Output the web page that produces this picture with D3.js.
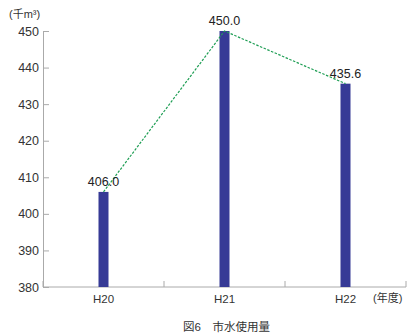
<!DOCTYPE html>
<html>
<head>
<meta charset="utf-8">
<script src="https://cdn.jsdelivr.net/npm/d3@7"></script>
<style>
  body { margin: 0; background: #fff; }
  text { font-family: "Liberation Sans", "Noto Sans CJK JP", sans-serif; }
</style>
</head>
<body>
<script>
// Data
const years = ["H20", "H21", "H22"];
const values = [406.0, 450.0, 435.6];
const yTicks = [380, 390, 400, 410, 420, 430, 440, 450];

// Dimensions
const W = 412, H = 336;
const margin = { top: 31, right: 6, bottom: 49, left: 43 };
const width = W - margin.left - margin.right;
const height = H - margin.top - margin.bottom;

const svg = d3.select("body")
    .append("svg")
    .attr("width", W)
    .attr("height", H);

const g = svg.append("g")
    .attr("transform", `translate(${margin.left}, ${margin.top})`);

// Scales
const x = d3.scaleBand()
    .domain(years)
    .range([0, width]);

const y = d3.scaleLinear()
    .domain([380, 450])
    .range([height, 0]);

// Y axis (ticks point inward)
const yAxis = g.append("g")
    .call(d3.axisLeft(y).tickValues(yTicks).tickSize(-6).tickPadding(10));
yAxis.select(".domain").attr("stroke", "#aaa");
yAxis.selectAll(".tick line").attr("stroke", "#aaa");
yAxis.selectAll(".tick text")
    .attr("font-size", 12.5)
    .attr("fill", "#333")
    .attr("x", -4);

// X axis with ticks at band edges
const xAxis = g.append("g")
    .attr("transform", `translate(0, ${height})`);
xAxis.append("line")
    .attr("x1", 0).attr("x2", width)
    .attr("stroke", "#aaa");
const edges = years.map((d) => x(d)).concat([x(years[years.length - 1]) + x.bandwidth()]);
xAxis.selectAll(".edge")
    .data(edges)
    .join("line")
    .attr("x1", (d) => d).attr("x2", (d) => d)
    .attr("y1", 0).attr("y2", -6)
    .attr("stroke", "#aaa");
xAxis.selectAll(".lbl")
    .data(years)
    .join("text")
    .attr("x", (d) => x(d) + x.bandwidth() / 2)
    .attr("y", 16)
    .attr("text-anchor", "middle")
    .attr("font-size", 11.5)
    .attr("fill", "#333")
    .text((d) => d);

// Bars
const barW = 10;
g.selectAll(".bar")
    .data(values)
    .join("rect")
    .attr("x", (d, i) => x(years[i]) + x.bandwidth() / 2 - barW / 2)
    .attr("y", (d) => y(d))
    .attr("width", barW)
    .attr("height", (d) => height - y(d))
    .attr("fill", "#363a96");

// Dashed line connecting bar tops
const line = d3.line()
    .x((d, i) => x(years[i]) + x.bandwidth() / 2)
    .y((d) => y(d));
g.append("path")
    .datum(values)
    .attr("d", line)
    .attr("fill", "none")
    .attr("stroke", "#1f9e55")
    .attr("stroke-width", 1.2)
    .attr("stroke-dasharray", "2.5,1.5");

// Value labels
g.selectAll(".val")
    .data(values)
    .join("text")
    .attr("x", (d, i) => x(years[i]) + x.bandwidth() / 2)
    .attr("y", (d) => y(d) - 6)
    .attr("text-anchor", "middle")
    .attr("font-size", 12.5)
    .attr("fill", "#222")
    .text((d) => d.toFixed(1));

// Unit labels
svg.append("text")
    .attr("x", 9).attr("y", 18)
    .attr("font-size", 11)
    .attr("fill", "#333")
    .attr("font-family", "Noto Sans CJK JP")
    .text("(千m³)");
svg.append("text")
    .attr("x", 373).attr("y", 302)
    .attr("font-size", 11)
    .attr("fill", "#333")
    .attr("font-family", "Noto Sans CJK JP")
    .text("(年度)");

// Caption
svg.append("text")
    .attr("x", 183).attr("y", 331)
    .attr("font-size", 11.5)
    .attr("fill", "#333")
    .attr("font-family", "Noto Sans CJK JP")
    .text("図6　市水使用量");
</script>
</body>
</html>
